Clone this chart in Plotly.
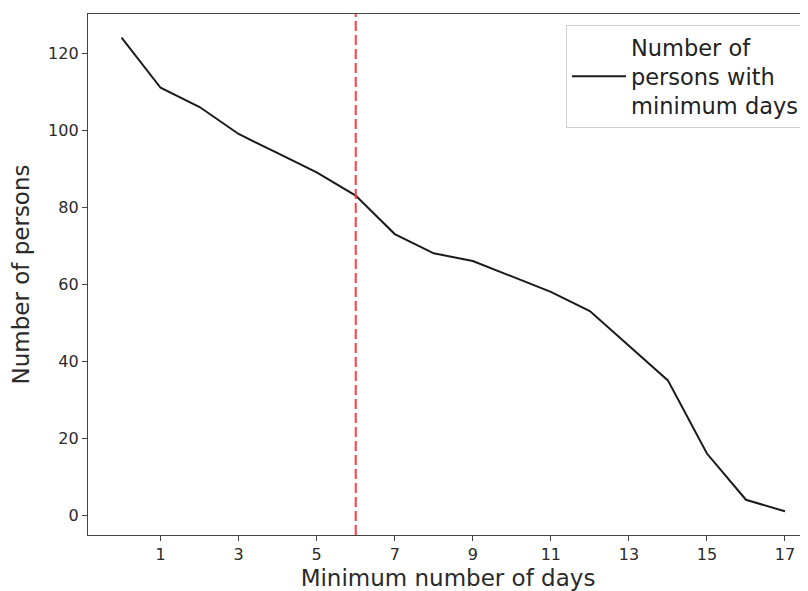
import plotly.graph_objects as go

# Data
days = list(range(0, 18))
persons = [124, 111, 106, 99, 94, 89, 83, 73, 68, 66, 62, 58, 53, 44, 35, 16, 4, 1]
threshold_day = 6
x_tick_vals = [1, 3, 5, 7, 9, 11, 13, 15, 17]
y_tick_vals = [0, 20, 40, 60, 80, 100, 120]
series_name = "Number of<br>persons with<br>minimum days"

fig = go.Figure()
fig.add_trace(go.Scatter(
    x=days, y=persons, mode="lines", name=series_name,
    line=dict(color="#1a1a1a", width=2),
    showlegend=True,
))

fig.add_shape(type="line", xref="x", yref="paper",
              x0=threshold_day, x1=threshold_day, y0=0, y1=1,
              line=dict(color="#ff3b3b", width=2, dash="10px,4px"), layer="above")

font_family = "DejaVu Sans"
fig.update_layout(
    width=800, height=583,
    margin=dict(l=80, r=0, t=6, b=56),
    plot_bgcolor="white", paper_bgcolor="white",
    font=dict(family=font_family, color="#2a2a2a"),
    legend=dict(x=0.9958, y=0.979, xanchor="right", yanchor="top",
                font=dict(size=22.5, family=font_family, color="#222"),
                bgcolor="white", bordercolor="#d0d0d0", borderwidth=1,
                itemwidth=54),
    xaxis=dict(range=[-0.86, 17.59], tickmode="array", tickvals=x_tick_vals,
               showgrid=False, zeroline=False, showline=True, mirror=True,
               linecolor="#444", linewidth=1.3, ticks="outside", ticklen=5,
               tickcolor="#444", tickfont=dict(size=16),
               title=dict(text="Minimum number of days", font=dict(size=23), standoff=6)),
    yaxis=dict(range=[-5.15, 130.15], tickmode="array", tickvals=y_tick_vals,
               showgrid=False, zeroline=False, showline=True, mirror=False,
               linecolor="#444", linewidth=1.3, ticks="outside", ticklen=5,
               tickcolor="#444", tickfont=dict(size=16),
               title=dict(text="Number of persons", font=dict(size=23), standoff=12)),
)

fig.write_html("out.html")
